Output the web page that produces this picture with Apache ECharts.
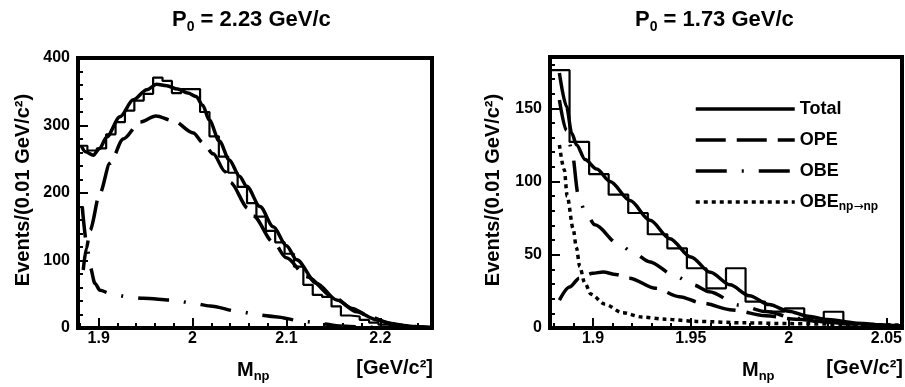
<!DOCTYPE html>
<html><head><meta charset="utf-8">
<script src="https://cdn.jsdelivr.net/npm/echarts@6/dist/echarts.min.js"></script>
<style>html,body{margin:0;padding:0;background:#fff}#c{width:905px;height:387px}</style>
</head><body><div id="c"></div>
<script>
// ---------- data ----------
const binStart = 1.878, binWidth = 0.01;
// Left panel: P0 = 2.23 GeV/c
const leftHist = [270,263,266,287,305,322,337,347,371,366,348,354,354,320,284,254,230,209,185,165,144,127,110,91,64,49,46,32,18.5,17,12,8,5,3,2,1,0.5,0];
const leftTotal = [[1.8815,270],[1.8860,261],[1.8943,256],[1.9010,266],[1.9086,283],[1.9227,313],[1.9369,338],[1.9512,353],[1.9618,361],[1.9725,359],[1.9840,354],[1.9950,348],[2.0037,343],[2.0108,330],[2.0178,308],[2.0285,277],[2.0391,249],[2.0500,225],[2.0577,210],[2.0718,180],[2.0860,150],[2.1000,122],[2.1109,101],[2.1322,66],[2.1535,41.5],[2.1748,24],[2.1961,12],[2.2174,4.6],[2.2387,1.8],[2.2550,0.8]];
const leftOPE = [[1.8836,86],[1.8870,118],[1.8908,145],[1.9014,200],[1.9120,244],[1.9262,280],[1.9443,305],[1.9610,314],[1.9796,307],[2.0008,289],[2.0114,274],[2.0220,258],[2.0346,232],[2.0400,216],[2.0594,177],[2.0647,166],[2.0860,127],[2.1000,104],[2.1216,76],[2.1499,46],[2.1700,29],[2.1900,16],[2.2100,7],[2.2300,2.5],[2.2550,0.5]];
const leftOBE = [[1.8825,180],[1.8879,120],[1.8908,91],[1.8961,66],[1.9014,56],[1.9120,51.4],[1.9299,46.4],[1.9475,44],[1.9795,41.5],[2.0002,36.6],[2.0186,32.6],[2.0505,24.2],[2.0700,19.3],[2.0878,16.8],[2.1197,9.4],[2.1392,5.9],[2.1570,3],[2.1890,1],[2.2200,0.3]];
// Right panel: P0 = 1.73 GeV/c
const rightHist = [176,127,105,91,78.5,64,54.4,40.8,27.1,40.8,18,11.2,13.4,6.6,11.1,2.5,1,0];
const rightTotal = [[1.8828,174],[1.8865,151],[1.8891,133],[1.8916,125],[1.8959,115],[1.9019,108.5],[1.9087,100],[1.9189,87],[1.9291,73.5],[1.9393,61],[1.9500,48.5],[1.9600,38],[1.9700,29.5],[1.9800,22],[1.9900,16],[2.0000,11.5],[2.0100,8],[2.0200,5.8],[2.0350,3.3],[2.0500,1.8],[2.0580,1.4]];
const rightOPE = [[1.8828,19],[1.8880,28],[1.8930,34],[1.8998,37.3],[1.9052,38.3],[1.9117,36.5],[1.9185,34],[1.9321,27.1],[1.9441,21.4],[1.9560,16.9],[1.9713,12.3],[1.9883,8.4],[2.0037,6],[2.0200,4],[2.0400,2.2],[2.0580,1.3]];
const rightOBE = [[1.8828,155.7],[1.8865,135],[1.8891,121.6],[1.8925,90.8],[1.8959,79.4],[1.9010,70.4],[1.9129,57.5],[1.9211,51],[1.9287,45.3],[1.9427,35],[1.9512,29.4],[1.9594,24.8],[1.9747,15.7],[1.9883,11.2],[2.0037,6.6],[2.0200,4],[2.0400,2],[2.0580,1]];
const rightOBEnp = [[1.8828,125],[1.8853,108],[1.8868,90],[1.8898,68],[1.8915,55],[1.8932,42],[1.8957,31],[1.8990,23],[1.9060,16.3],[1.9150,10.5],[1.9250,7.5],[1.9370,6],[1.9530,4.5],[1.9780,3.5],[2.0000,3],[2.0300,2.5],[2.0580,2]];
// axes / ticks
const leftXMajor = [1.9, 2.0, 2.1, 2.2];
const leftXMinor = [1.88,1.92,1.94,1.96,1.98,2.02,2.04,2.06,2.08,2.12,2.14,2.16,2.18,2.22,2.24];
const leftYMajor = [0,100,200,300,400];
const leftYMinor = [20,40,60,80,120,140,160,180,220,240,260,280,320,340,360,380];
const rightXMajor = [1.9, 1.95, 2.0, 2.05];
const rightXMinor = [1.88,1.89,1.91,1.92,1.93,1.94,1.96,1.97,1.98,1.99,2.01,2.02,2.03,2.04];
const rightYMajor = [0,50,100,150];
const rightYMinor = [10,20,30,40,60,70,80,90,110,120,130,140,160,170,180];
const legendNames = ['Total','OPE','OBE','OBEnp'];

// ---------- helpers ----------
const FONT = 'Liberation Sans';
const LW = 3.5;
function histPath(h){
  const pts = [[binStart,0]];
  h.forEach((v,i)=>{const a=binStart+i*binWidth; pts.push([a,v],[a+binWidth,v]);});
  pts.push([binStart+h.length*binWidth,0]);
  return pts;
}
const solid = 'solid', opeDash = [30,11], obeDash = [31,15,2,15], dotDash = [4,4];
function curve(name, data, type, xi, yi){
  return {type:'line', name, data, xAxisIndex:xi, yAxisIndex:yi, symbol:'none', smooth:0.3, smoothMonotone:'x',
    lineStyle:{color:'#000', width:LW, type}, itemStyle:{color:'#000'}, z:3, silent:true, animation:false};
}
function hist(name, h, xi, yi){
  return {type:'line', name, data:histPath(h), xAxisIndex:xi, yAxisIndex:yi, symbol:'none',
    lineStyle:{color:'#000', width:2.2}, z:2, silent:true, animation:false};
}
function xMain(grid,min,max,ticks){
  return {type:'value', gridIndex:grid, min, max, position:'bottom',
    axisLine:{show:true, onZero:false, lineStyle:{color:'#000', width:4}},
    axisTick:{show:true, inside:true, length:10, customValues:ticks, lineStyle:{color:'#000', width:2}},
    axisLabel:{show:true, customValues:ticks, margin:3, color:'#000', fontSize:16, fontWeight:'bold', fontFamily:FONT,
      formatter:v=>String(+v.toFixed(3))},
    splitLine:{show:false}};
}
function xMinor(grid,min,max,ticks){
  return {type:'value', gridIndex:grid, min, max, position:'bottom',
    axisLine:{show:false, onZero:false}, axisLabel:{show:false}, splitLine:{show:false},
    axisTick:{show:true, inside:true, length:5, customValues:ticks, lineStyle:{color:'#000', width:2}}};
}
function yMain(grid,min,max,ticks){
  return {type:'value', gridIndex:grid, min, max, position:'left',
    axisLine:{show:true, onZero:false, lineStyle:{color:'#000', width:4}},
    axisTick:{show:true, inside:true, length:10, customValues:ticks, lineStyle:{color:'#000', width:2}},
    axisLabel:{show:true, customValues:ticks, margin:8, color:'#000', fontSize:16, fontWeight:'bold', fontFamily:FONT},
    splitLine:{show:false}};
}
function yMinor(grid,min,max,ticks){
  return {type:'value', gridIndex:grid, min, max, position:'left',
    axisLine:{show:false, onZero:false}, axisLabel:{show:false}, splitLine:{show:false},
    axisTick:{show:true, inside:true, length:5, customValues:ticks, lineStyle:{color:'#000', width:2}}};
}
const rich = {
  a:{fontSize:22, fontWeight:'bold', fontFamily:FONT, color:'#000', lineHeight:28},
  s:{fontSize:14, fontWeight:'bold', fontFamily:FONT, color:'#000', lineHeight:14, verticalAlign:'bottom'},
  t:{fontSize:20, fontWeight:'bold', fontFamily:FONT, color:'#000', lineHeight:26},
  u:{fontSize:13, fontWeight:'bold', fontFamily:FONT, color:'#000', lineHeight:13, verticalAlign:'bottom'}
};
function txt(x,y,text,align,rot){
  return {type:'text', x, y, rotation:rot||0, silent:true,
    style:{text, textAlign:align||'left', textVerticalAlign:'middle', fill:'#000',
      font:'bold 20px "Liberation Sans"', rich}};
}

const chart = echarts.init(document.getElementById('c'), null, {renderer:'canvas'});
chart.setOption({
  animation:false,
  backgroundColor:'#fff',
  grid:[
    {left:78, top:58, width:354, height:270, show:true, borderColor:'#000', borderWidth:4, backgroundColor:'rgba(0,0,0,0)'},
    {left:550, top:57, width:352, height:271, show:true, borderColor:'#000', borderWidth:4, backgroundColor:'rgba(0,0,0,0)'}
  ],
  xAxis:[
    xMain(0,1.878,2.255,leftXMajor), xMinor(0,1.878,2.255,leftXMinor),
    xMain(1,1.878,2.058,rightXMajor), xMinor(1,1.878,2.058,rightXMinor)
  ],
  yAxis:[
    yMain(0,0,400,leftYMajor), yMinor(0,0,400,leftYMinor),
    yMain(1,0,185,rightYMajor), yMinor(1,0,185,rightYMinor)
  ],
  legend:{
    data:legendNames, orient:'vertical', left:689, top:95, itemWidth:99, itemHeight:20, itemGap:13,
    selectedMode:false,
    itemStyle:{opacity:0},
    lineStyle:{width:LW},
    formatter:n=> n==='OBEnp' ? '{b|OBE}{c|np}{d|\u2192}{c|np}' : '{b|'+n+'}',
    textStyle:{color:'#000', padding:[0,0,0,0], rich:{
      b:{fontSize:18, fontWeight:'bold', fontFamily:FONT, color:'#000', lineHeight:22},
      c:{fontSize:12, fontWeight:'bold', fontFamily:FONT, color:'#000', lineHeight:12, verticalAlign:'bottom'},
      d:{fontSize:12, fontFamily:'DejaVu Sans', color:'#000', lineHeight:12, verticalAlign:'bottom'}
    }}
  },
  series:[
    hist('hL', leftHist, 0, 0),
    curve('Total L', leftTotal, solid, 0, 0),
    curve('OPE L', leftOPE, opeDash, 0, 0),
    curve('OBE L', leftOBE, obeDash, 0, 0),
    hist('hR', rightHist, 2, 2),
    curve('Total', rightTotal, solid, 2, 2),
    curve('OPE', rightOPE, opeDash, 2, 2),
    curve('OBE', rightOBE, obeDash, 2, 2),
    curve('OBEnp', rightOBEnp, dotDash, 2, 2)
  ],
  graphic:[
    txt(172, 20, '{a|P}{s|0}{a| = 2.23 GeV/c}'),
    txt(635, 20, '{a|P}{s|0}{a| = 1.73 GeV/c}'),
    txt(23, 190, 'Events/(0.01 GeV/c\u00b2)', 'center', Math.PI/2),
    txt(493, 190, 'Events/(0.01 GeV/c\u00b2)', 'center', Math.PI/2),
    txt(237, 370, '{t|M}{u|np}'),
    txt(433, 368, '[GeV/c\u00b2]', 'right'),
    txt(742, 370, '{t|M}{u|np}'),
    txt(903, 368, '[GeV/c\u00b2]', 'right')
  ]
});
</script></body></html>
